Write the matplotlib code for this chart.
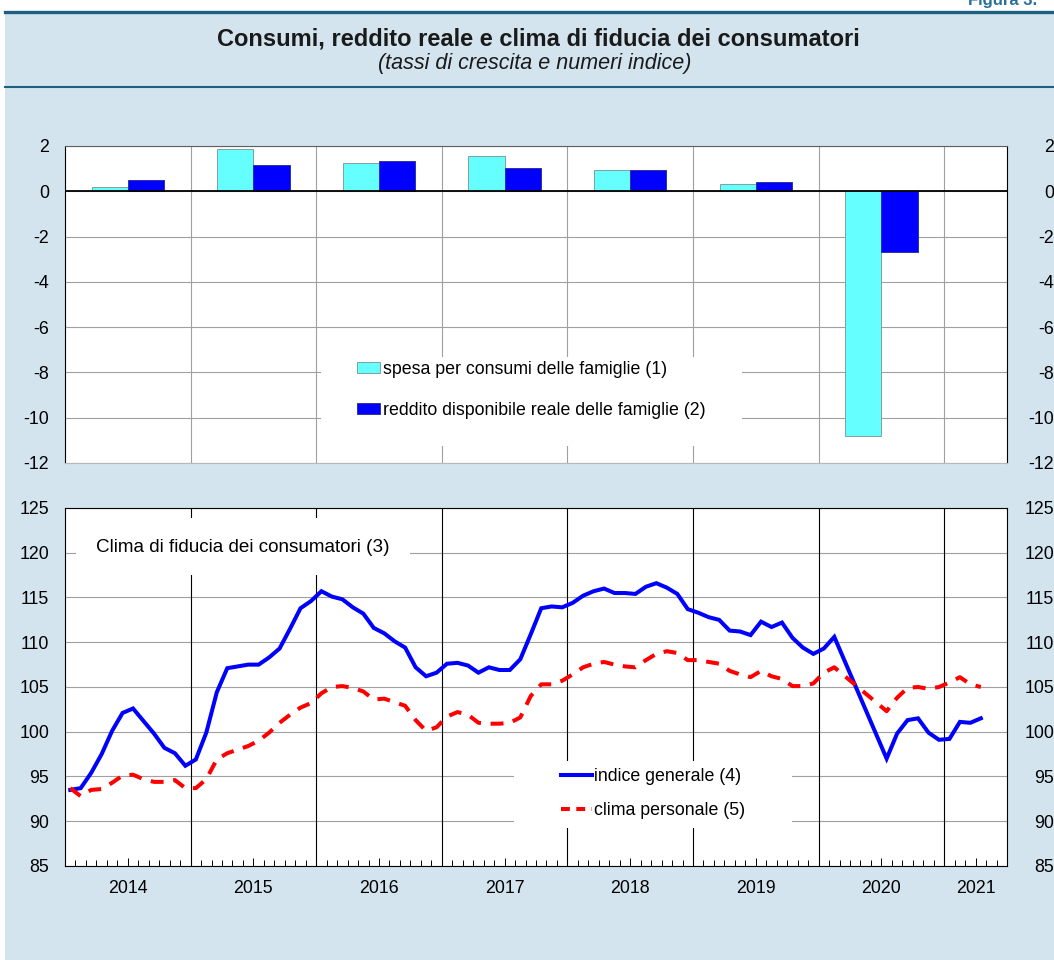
"""Consumi, reddito reale e clima di fiducia dei consumatori (bar + line panels)."""

import numpy as np
import matplotlib

matplotlib.use("Agg")
from matplotlib import pyplot as plt
from matplotlib.lines import Line2D
from matplotlib.patches import Patch, Rectangle
from matplotlib.ticker import FixedLocator

plt.rcParams["font.family"] = ["Liberation Sans", "DejaVu Sans"]
plt.rcParams["axes.unicode_minus"] = False

# --- data -----------------------------------------------------------------
# annual growth rates (per cent)
bar_years = [2014, 2015, 2016, 2017, 2018, 2019, 2020]
spesa_consumi = [0.2, 1.85, 1.25, 1.55, 0.95, 0.3, -10.8]
reddito_disponibile = [0.5, 1.15, 1.35, 1.05, 0.95, 0.4, -2.7]

# monthly index numbers, Jan 2014 - Apr 2021 (no survey data Mar-Jun 2020)
nan = float("nan")
indice_generale = [
    93.5, 93.7, 95.4, 97.5, 100.1, 102.1, 102.6, 101.2, 99.8, 98.2, 97.6, 96.2,
    96.9, 99.9, 104.4, 107.1, 107.3, 107.5, 107.5, 108.3, 109.3, 111.5, 113.8, 114.6,
    115.7, 115.1, 114.8, 113.9, 113.2, 111.6, 111.0, 110.1, 109.4, 107.2, 106.2, 106.6,
    107.6, 107.7, 107.4, 106.6, 107.2, 106.9, 106.9, 108.1, 110.9, 113.8, 114.0, 113.9,
    114.4, 115.2, 115.7, 116.0, 115.5, 115.5, 115.4, 116.2, 116.6, 116.1, 115.4, 113.7,
    113.3, 112.8, 112.5, 111.3, 111.2, 110.8, 112.3, 111.7, 112.2, 110.5, 109.4, 108.7,
    109.3, 110.6, nan, nan, nan, nan, 97.0, 99.8, 101.3, 101.5, 99.9, 99.1,
    99.2, 101.1, 101.0, 101.5,
]
clima_personale = [
    93.7, 92.8, 93.5, 93.6, 94.3, 95.1, 95.2, 94.7, 94.4, 94.4, 94.6, 93.7,
    93.7, 94.7, 96.9, 97.6, 98.0, 98.4, 99.0, 99.9, 101.0, 101.9, 102.7, 103.2,
    104.3, 105.0, 105.1, 104.9, 104.5, 103.6, 103.7, 103.3, 102.9, 101.3, 100.1, 100.5,
    101.7, 102.2, 101.9, 101.0, 100.9, 100.9, 101.0, 101.6, 104.0, 105.3, 105.3, 105.7,
    106.4, 107.2, 107.6, 107.8, 107.5, 107.3, 107.2, 108.0, 108.7, 109.0, 108.8, 108.0,
    108.0, 107.8, 107.6, 106.8, 106.4, 106.1, 106.8, 106.2, 105.9, 105.1, 105.1, 105.4,
    106.6, 107.2, nan, nan, nan, nan, 102.3, 103.8, 104.9, 105.0, 104.8, 105.0,
    105.5, 106.1, 105.3, 105.0,
]

year_labels = ["2014", "2015", "2016", "2017", "2018", "2019", "2020", "2021"]
year_label_months = [6, 18, 30, 42, 54, 66, 78, 87]
year_boundaries = [12, 24, 36, 48, 60, 72, 84]
n_months_axis = 90  # Jan 2014 - Jun 2021

# --- style ----------------------------------------------------------------
W, H = 1054, 960
PANEL = "#d3e4ee"
TEAL = "#1d5f7e"
CYAN = "#66ffff"
BLUE = "#0000ff"
RED = "#ff0000"
GRID = "#a0a0a0"
FS = 12.8


def px_rect(left, top, right, bottom):
    """Figure-fraction rectangle from pixel edges."""
    return [left / W, 1 - bottom / H, (right - left) / W, (bottom - top) / H]


def right_labels(ax, ticks):
    """Duplicate the y tick labels on the right, right-aligned near the edge."""
    axr = ax.twinx()
    axr.set_ylim(ax.get_ylim())
    axr.set_yticks(ticks)
    axr.tick_params(axis="y", length=0, pad=34, labelsize=FS)
    for lab in axr.get_yticklabels():
        lab.set_horizontalalignment("right")
    for sp in axr.spines.values():
        sp.set_visible(False)
    return axr


fig = plt.figure(figsize=(W / 100, H / 100), dpi=100)
fig.patch.set_facecolor("white")

# light blue panel with teal rules
fig.add_artist(Rectangle((5 / W, 0), 1, 1 - 12 / H, transform=fig.transFigure,
                         facecolor=PANEL, edgecolor="none", zorder=0))
fig.add_artist(Line2D([5 / W, 1], [1 - 12 / H] * 2, color=TEAL, lw=2.4))
fig.add_artist(Line2D([5 / W, 1], [1 - 87 / H] * 2, color=TEAL, lw=1.5))

fig.text(968 / W, 1 - 5 / H, "Figura 3.", ha="left", va="baseline",
         fontsize=12, fontweight="bold", color="#2a6f9a")
fig.text(538 / W, 1 - 39 / H, "Consumi, reddito reale e clima di fiducia dei consumatori",
         ha="center", va="center", fontsize=17, fontweight="bold", color="#1a1a1a")
fig.text(535 / W, 1 - 64 / H, "(tassi di crescita e numeri indice)",
         ha="center", va="center", fontsize=15.5, fontstyle="italic", color="#1a1a1a")

# --- upper panel: bars ----------------------------------------------------
ax1 = fig.add_axes(px_rect(65, 146, 1007, 463))
ax1.set_axisbelow(True)
ax1.set_xlim(0, n_months_axis)
ax1.set_ylim(-12, 2)
bar_ticks = list(range(-12, 3, 2))
ax1.set_yticks(bar_ticks)
ax1.grid(axis="y", color=GRID, lw=0.8)
for b in year_boundaries:
    ax1.axvline(b, color=GRID, lw=0.8, zorder=0.8)

centers = (np.array(bar_years) - 2014) * 12 + 6
width = 3.45
ax1.bar(centers - width / 2, spesa_consumi, width, color=CYAN,
        edgecolor="#7fa0a0", lw=0.7, zorder=3)
ax1.bar(centers + width / 2, reddito_disponibile, width, color=BLUE,
        edgecolor="#3030a0", lw=0.7, zorder=3)
ax1.axhline(0, color="black", lw=1.3, zorder=4)

ax1.tick_params(axis="x", bottom=False, labelbottom=False)
ax1.tick_params(axis="y", length=0, pad=11.5, labelsize=FS)
ax1.spines["top"].set_color("#606060")
ax1.spines["bottom"].set_color("#b8b8b8")
for side in ("left", "right"):
    ax1.spines[side].set_color("black")

# white box behind the legend
ax1.add_patch(Rectangle((0.2718, 0.0536), 0.4469, 0.2808, transform=ax1.transAxes,
                        facecolor="white", edgecolor="none", zorder=1))
bar_handles = [Patch(facecolor=CYAN, edgecolor="#7fa0a0", lw=0.7),
               Patch(facecolor=BLUE, edgecolor="#3030a0", lw=0.7)]
leg1 = ax1.legend(bar_handles,
                  ["spesa per consumi delle famiglie (1)",
                   "reddito disponibile reale delle famiglie (2)"],
                  loc="upper left", bbox_to_anchor=(0.31, 0.322), frameon=False,
                  fontsize=FS, handlelength=1.3, handleheight=0.62,
                  handletextpad=0.15, labelspacing=1.35, borderpad=0, borderaxespad=0)
leg1.set_zorder(5)
right_labels(ax1, bar_ticks)

# --- lower panel: confidence indices --------------------------------------
ax2 = fig.add_axes(px_rect(65, 508, 1007, 866))
ax2.set_axisbelow(True)
ax2.set_xlim(0, n_months_axis)
ax2.set_ylim(85, 125)
line_ticks = list(range(85, 126, 5))
ax2.set_yticks(line_ticks)
ax2.grid(axis="y", color=GRID, lw=0.8)
for b in year_boundaries:
    ax2.axvline(b, color="black", lw=0.8, zorder=0.8)

months = np.arange(len(indice_generale)) + 0.5
gen = np.array(indice_generale)
pers = np.array(clima_personale)
ok_gen = np.isfinite(gen)
ok_pers = np.isfinite(pers)
ax2.plot(months[ok_gen], gen[ok_gen], color=BLUE, lw=2.9, zorder=4,
         solid_joinstyle="miter")
ax2.plot(months[ok_pers], pers[ok_pers], color=RED, lw=2.9, zorder=4,
         linestyle=(0, (3.2, 2.4)), dash_capstyle="butt")

ax2.xaxis.set_major_locator(FixedLocator(year_label_months))
ax2.xaxis.set_minor_locator(FixedLocator(range(0, n_months_axis + 1)))
ax2.set_xticklabels(year_labels)
ax2.tick_params(axis="x", which="major", direction="in", length=6, width=0.7,
                pad=10, labelsize=FS, top=False)
ax2.tick_params(axis="x", which="minor", direction="in", length=4, width=0.7, top=False)
ax2.tick_params(axis="y", length=0, pad=11.5, labelsize=FS)
for sp in ax2.spines.values():
    sp.set_color("black")

# caption box in the top-left corner
ax2.add_patch(Rectangle((0.0117, 0.8128), 0.3546, 0.1592, transform=ax2.transAxes,
                        facecolor="white", edgecolor="none", zorder=1))
ax2.text(0.0329, 0.891, "Clima di fiducia dei consumatori (3)", transform=ax2.transAxes,
         ha="left", va="center", fontsize=13.6, zorder=5)

# white box behind the legend
ax2.add_patch(Rectangle((0.4766, 0.1061), 0.2951, 0.1872, transform=ax2.transAxes,
                        facecolor="white", edgecolor="none", zorder=1))
line_handles = [Line2D([], [], color=BLUE, lw=2.9),
                Line2D([], [], color=RED, lw=2.9, linestyle=(0, (2.2, 1.6)),
                       dash_capstyle="butt")]
leg2 = ax2.legend(line_handles, ["indice generale (4)", "clima personale (5)"],
                  loc="upper left", bbox_to_anchor=(0.5265, 0.2737), frameon=False,
                  fontsize=FS, handlelength=1.74, handletextpad=0.1,
                  labelspacing=0.95, borderpad=0, borderaxespad=0)
leg2.set_zorder(5)
right_labels(ax2, line_ticks)

fig.savefig("out.png", dpi=100, facecolor=fig.get_facecolor())
